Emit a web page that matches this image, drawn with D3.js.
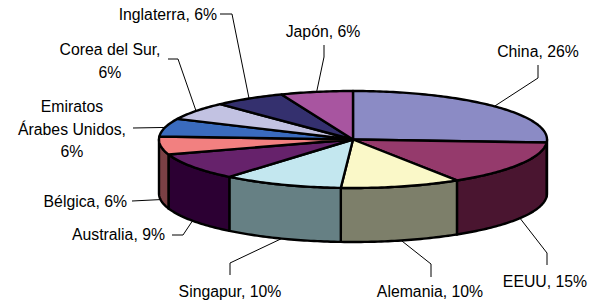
<!DOCTYPE html>
<html>
<head>
<meta charset="utf-8">
<script src="https://cdn.jsdelivr.net/npm/d3@7/dist/d3.min.js"></script>
<style>
  html, body { margin: 0; padding: 0; background: #fff; }
  svg { display: block; }
  text { font-family: "Liberation Sans", Arial, sans-serif; font-size: 15.8px; fill: #000; }
</style>
</head>
<body>
<svg id="chart" width="599" height="308"></svg>
<script>
// ---- data ----
const categories = ["China", "EEUU", "Alemania", "Singapur", "Australia", "Bélgica",
                    "Emiratos Árabes Unidos", "Corea del Sur", "Inglaterra", "Japón"];
const values = [26, 15, 10, 10, 9, 6, 6, 6, 6, 6];
const labelTexts = [
  ["China, 26%"], ["EEUU, 15%"], ["Alemania, 10%"], ["Singapur, 10%"], ["Australia, 9%"],
  ["Bélgica, 6%"], ["Emiratos", "Árabes Unidos,", "6%"], ["Corea del Sur,", "6%"],
  ["Inglaterra, 6%"], ["Japón, 6%"]
];

// ---- style ----
const topColors  = ["#8b8bc5", "#953a6c", "#faf8c8", "#c3e7ef", "#66226b",
                    "#f28080", "#3a6bbe", "#c2c2e2", "#34306e", "#a855a0"];
const sideColors = ["#46466a", "#4a1530", "#7d7f6a", "#668084", "#2c0033",
                    "#7a4044", "#1d3560", "#616171", "#1a1837", "#552a50"];

// ---- layout ----
const cx = 353, cy = 139.5, rx = 194, ry = 48.5, depth = 54;
const labelLayout = [
  { x: 538, y: 57,  anchor: "middle", route: [[538, 65], [538, 78]] },
  { x: 545, y: 287, anchor: "middle", route: [[547, 265], [547, 253]] },
  { x: 430, y: 297, anchor: "middle", route: [[431, 277], [431, 264]] },
  { x: 230, y: 297, anchor: "middle", route: [[230, 275], [230, 263]] },
  { x: 165, y: 240, anchor: "end",    route: [[172, 235], [183, 235]] },
  { x: 127, y: 207, anchor: "end",    route: [[132, 201]] },
  { x: 72,  y: 112, anchor: "middle", route: [[133, 128]] },
  { x: 110, y: 55,  anchor: "middle", route: [[168, 59], [178, 59]] },
  { x: 217, y: 20,  anchor: "end",    route: [[220, 14], [232, 14]] },
  { x: 323, y: 37,  anchor: "middle", route: [[324, 45], [324, 57]] }
];

const svg = d3.select("#chart");

const pie = d3.pie().sort(null).value(d => d).startAngle(0).endAngle(2 * Math.PI);
const arcs = pie(values);

const P = (t, h = 0) => [cx + rx * Math.sin(t), cy - ry * Math.cos(t) + h];
const line = d3.line();

function arcPoints(a0, a1, h) {
  const n = Math.max(2, Math.ceil(Math.abs(a1 - a0) / (Math.PI / 180)));
  return d3.range(n + 1).map(i => P(a0 + (a1 - a0) * i / n, h));
}

const stroke = "#000", sw = 2.4;

// sides
const gSide = svg.append("g");
arcs.forEach((a, i) => {
  const s = Math.max(a.startAngle, Math.PI / 2);
  const e = Math.min(a.endAngle, 3 * Math.PI / 2);
  if (e <= s) return;
  const pts = arcPoints(s, e, 0).concat(arcPoints(e, s, depth));
  gSide.append("path")
    .attr("d", line(pts) + "Z")
    .attr("fill", sideColors[i])
    .attr("stroke", stroke)
    .attr("stroke-width", sw)
    .attr("stroke-linejoin", "round");
});

// top faces
const gTop = svg.append("g");
arcs.forEach((a, i) => {
  const pts = [[cx, cy]].concat(arcPoints(a.startAngle, a.endAngle, 0));
  gTop.append("path")
    .attr("d", line(pts) + "Z")
    .attr("fill", topColors[i])
    .attr("stroke", stroke)
    .attr("stroke-width", sw)
    .attr("stroke-linejoin", "round");
});

// leader lines and labels
const gLab = svg.append("g");
arcs.forEach((a, i) => {
  const mid = (a.startAngle + a.endAngle) / 2;
  const front = mid > Math.PI / 2 && mid < 3 * Math.PI / 2;
  const anchorPt = P(mid, front ? depth : 0);
  const L = labelLayout[i];
  const pts = L.route.concat([anchorPt]);
  gLab.append("path")
    .attr("d", line(pts))
    .attr("fill", "none")
    .attr("stroke", "#000")
    .attr("stroke-width", 1);
  const t = gLab.append("text")
    .attr("x", L.x).attr("y", L.y)
    .attr("text-anchor", L.anchor);
  labelTexts[i].forEach((s, k) => {
    t.append("tspan").attr("x", L.x).attr("y", L.y + k * 22.5).text(s);
  });
});
</script>
</body>
</html>
